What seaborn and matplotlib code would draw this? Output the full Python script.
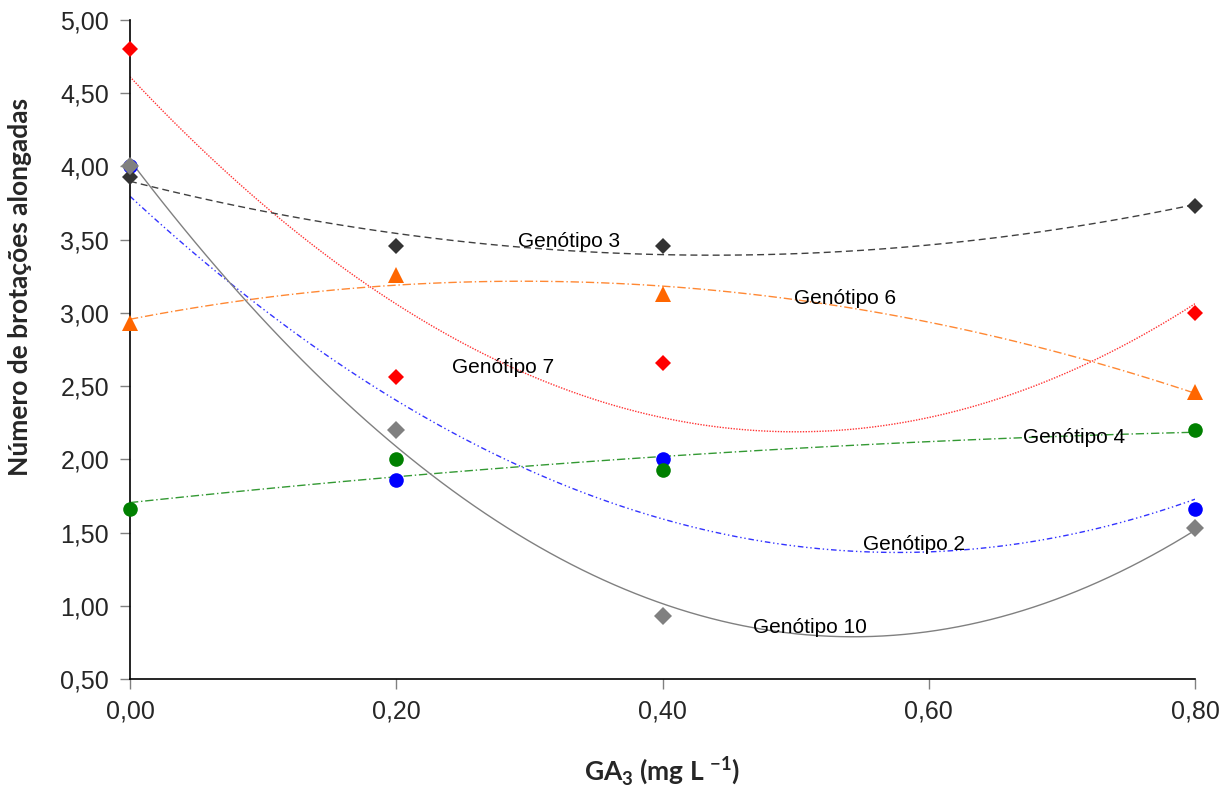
import numpy as np
import pandas as pd
import matplotlib
matplotlib.use("Agg")
import matplotlib.pyplot as plt
import seaborn as sns

ga3 = [0.0, 0.2, 0.4, 0.8]
gen7 = [4.80, 2.56, 2.66, 3.00]
gen3 = [3.93, 3.46, 3.46, 3.73]
gen6 = [2.93, 3.26, 3.13, 2.46]
gen4 = [1.66, 2.00, 1.93, 2.20]
gen2 = [4.00, 1.86, 2.00, 1.66]
gen10 = [4.00, 2.20, 0.93, 1.53]

sns.set_style("white")
plt.rcParams['font.family'] = ['Liberation Sans', 'DejaVu Sans']
plt.rcParams['mathtext.fontset'] = 'custom'
plt.rcParams['mathtext.bf'] = 'Lato:bold'
plt.rcParams['mathtext.rm'] = 'Lato:bold'

fig = plt.figure(figsize=(12.32, 7.87), dpi=100)
ax = fig.add_axes([0.1055, 0.1372, 0.8645, 0.8374])

# (name, values, marker color, marker, size, line color, line style)
series = [
    ("Genótipo 2", gen2, "#0000FF", "o", 10.5, "#3333FF", (0, (4, 2, 1, 2, 1, 2))),
    ("Genótipo 4", gen4, "#008000", "o", 10.5, "#339933", (0, (6, 2, 1, 2))),
    ("Genótipo 6", gen6, "#FF6600", "^", 11, "#FF8833", (0, (6, 2, 1, 2))),
    ("Genótipo 7", gen7, "#FF0000", "D", 8.5, "#FF3333", (0, (1, 1))),
    ("Genótipo 3", gen3, "#333333", "D", 8.5, "#404040", (0, (5, 3))),
    ("Genótipo 10", gen10, "#808080", "D", 9.5, "#808080", "-"),
]

for name, vals, col, mk, ms, lcol, ls in series:
    df = pd.DataFrame({"x": ga3, "y": vals})
    sns.regplot(data=df, x="x", y="y", order=2, ci=None, scatter=False, ax=ax,
                line_kws=dict(color=lcol, linestyle=ls, linewidth=1.0))
    ax.plot(ga3, vals, linestyle="none", marker=mk, color=col, markersize=ms,
            markeredgewidth=0, clip_on=False, zorder=3)

labels = {
    "Genótipo 3": (0.33, 3.49),
    "Genótipo 6": (0.537, 3.10),
    "Genótipo 7": (0.28, 2.63),
    "Genótipo 4": (0.709, 2.15),
    "Genótipo 2": (0.589, 1.42),
    "Genótipo 10": (0.511, 0.85),
}
for name, (lx, ly) in labels.items():
    ax.text(lx, ly, name, ha="center", va="center", fontsize=15, color="black")

ax.set_xlim(0, 0.8)
ax.set_ylim(0.5, 5.0)
ax.set_xticks([0.0, 0.2, 0.4, 0.6, 0.8])
ax.set_yticks(np.arange(0.5, 5.01, 0.5))
ax.set_xticklabels([f"{v:.2f}".replace(".", ",") for v in [0.0, 0.2, 0.4, 0.6, 0.8]])
ax.set_yticklabels([f"{v:.2f}".replace(".", ",") for v in np.arange(0.5, 5.01, 0.5)])
ax.tick_params(axis="both", labelsize=18, direction="out", length=7, width=1,
               color="#808080", pad=8, left=True, bottom=True)

for s in ["top", "right"]:
    ax.spines[s].set_visible(False)
for s in ["left", "bottom"]:
    ax.spines[s].set_color("black")
    ax.spines[s].set_linewidth(1.2)

ax.set_xlabel(r"GA$_\mathbf{3}$ (mg L $^{\mathbf{-1}}$)", fontsize=19,
              fontfamily="Lato", fontweight="bold")
ax.set_ylabel("Número de brotações alongadas", fontsize=19,
              fontfamily="Lato", fontweight="bold")
ax.xaxis.set_label_coords(0.5, -0.115)
ax.yaxis.set_label_coords(-0.092, 0.595)

fig.savefig("out.png", dpi=100)
